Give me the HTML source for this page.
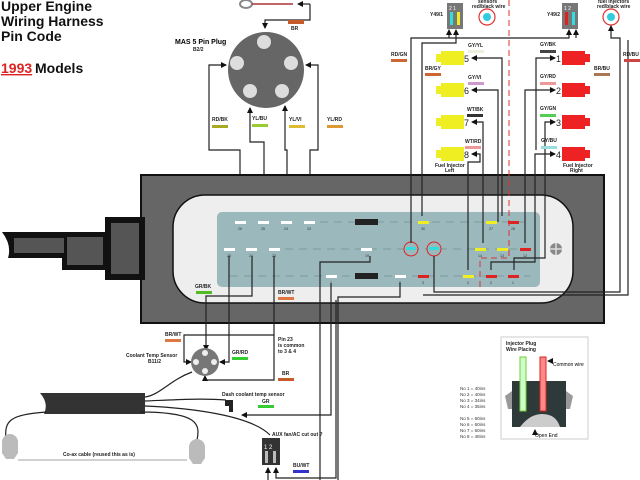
<!DOCTYPE html>
<html><head><meta charset="utf-8"><style>
html,body{margin:0;padding:0;background:#fff;}
svg{display:block;font-family:"Liberation Sans",sans-serif;}
.t{font-size:5px;font-weight:bold;fill:#222}
.w{fill:none;stroke:#222;stroke-width:1.2}
</style></head><body>
<svg width="640" height="480" viewBox="0 0 640 480" xmlns="http://www.w3.org/2000/svg">
<defs><marker id="a" markerWidth="6" markerHeight="6" refX="5" refY="3" orient="auto" markerUnits="userSpaceOnUse"><path d="M0,0L6,3L0,6z" fill="#111"/></marker></defs>
<text x="1" y="11" font-size="14" font-weight="bold" fill="#111">Upper Engine</text>
<text x="1" y="26" font-size="14" font-weight="bold" fill="#111">Wiring Harness</text>
<text x="1" y="41" font-size="14" font-weight="bold" fill="#111">Pin Code</text>
<text x="1" y="73" font-size="14" font-weight="bold" fill="#d22" text-decoration="underline">1993</text>
<text x="35" y="73" font-size="14" font-weight="bold" fill="#111">Models</text>

<!-- ring terminal -->
<ellipse cx="246" cy="4" rx="6" ry="4" fill="#fff" stroke="#888" stroke-width="2"/>
<line x1="252" y1="4" x2="293" y2="4" stroke="#a33" stroke-width="1.5"/>
<path class="w" d="M310,4 V20 H265 V28" marker-end="url(#a)"/>
<path class="w" d="M310,4 H298" marker-end="url(#a)"/>
<rect x="288" y="20" width="16" height="4" fill="#c55a2a"/><text class="t" x="291" y="30">BR</text>

<!-- MAS plug -->
<text x="175" y="44" font-size="7" font-weight="bold">MAS 5 Pin Plug</text><text class="t" x="193" y="51">B2/2</text>
<circle cx="266" cy="70" r="38" fill="#666"/>
<g fill="#ddd"><circle cx="264" cy="42" r="7"/><circle cx="291" cy="63" r="7"/><circle cx="237" cy="63" r="7"/><circle cx="250" cy="91" r="7"/><circle cx="282" cy="91" r="7"/></g>
<path class="w" d="M240,216 V150 H209 V65 H226" marker-end="url(#a)"/>
<path class="w" d="M264,216 V142 H250 V108" marker-end="url(#a)"/>
<path class="w" d="M287,216 V150 H285 V106" marker-end="url(#a)"/>
<path class="w" d="M310,216 V150 H318 V65 H306" marker-end="url(#a)"/>
<text class="t" x="212" y="121">RD/BK</text><rect x="212" y="125" width="16" height="3" fill="#aa2"/>
<text class="t" x="252" y="120">YL/BU</text><rect x="252" y="124" width="16" height="3" fill="#9c3"/>
<text class="t" x="289" y="121">YL/VI</text><rect x="289" y="125" width="16" height="3" fill="#db3"/>
<text class="t" x="327" y="121">YL/RD</text><rect x="327" y="125" width="16" height="3" fill="#d93"/>

<!-- housing -->
<rect x="141" y="175" width="463" height="148" fill="#666" stroke="#111" stroke-width="2"/>
<rect x="173" y="195" width="400" height="108" rx="32" fill="#eee" stroke="#111" stroke-width="1.5"/>
<rect x="217" y="212" width="323" height="75" rx="5" fill="#9bb9bc"/>
<circle cx="556" cy="249" r="6" fill="#888"/><path d="M550,249H562M556,243V255" stroke="#ddd" stroke-width="1.5"/>
<!-- plug cable -->
<rect x="105" y="217" width="40" height="63" fill="#111"/><rect x="111" y="223" width="28" height="51" fill="#555"/>
<rect x="62" y="232" width="45" height="38" fill="#111"/><rect x="67" y="237" width="36" height="28" fill="#555"/>
<path d="M2,232 H64 V258 H8 Q12,245 2,232z" fill="#111"/><rect x="14" y="238" width="50" height="15" fill="#555"/>
<!-- dashes -->
<g stroke="#7a9a9c" stroke-width="1" stroke-dasharray="8,6"><line x1="320" y1="222" x2="530" y2="222"/><line x1="285" y1="249" x2="530" y2="249"/><line x1="230" y1="276" x2="530" y2="276"/></g>
<rect x="355" y="219" width="23" height="6" fill="#222"/><rect x="355" y="273" width="23" height="6" fill="#222"/>
<g>
<rect x="235" y="221" width="11" height="3" fill="#fff"/><rect x="258" y="221" width="11" height="3" fill="#fff"/><rect x="281" y="221" width="11" height="3" fill="#fff"/><rect x="304" y="221" width="11" height="3" fill="#fff"/>
<rect x="418" y="221" width="11" height="3" fill="#ee2"/><rect x="486" y="221" width="11" height="3" fill="#ee2"/><rect x="508" y="221" width="11" height="3" fill="#d22"/>
<rect x="224" y="248" width="11" height="3" fill="#fff"/><rect x="246" y="248" width="11" height="3" fill="#fff"/><rect x="269" y="248" width="11" height="3" fill="#fff"/><rect x="361" y="248" width="11" height="3" fill="#fff"/>
<rect x="475" y="248" width="11" height="3" fill="#ee2"/><rect x="497" y="248" width="11" height="3" fill="#ee2"/><rect x="520" y="248" width="11" height="3" fill="#d22"/>
<rect x="326" y="275" width="11" height="3" fill="#fff"/><rect x="395" y="275" width="11" height="3" fill="#fff"/><rect x="418" y="275" width="11" height="3" fill="#d22"/>
<rect x="463" y="275" width="11" height="3" fill="#ee2"/><rect x="486" y="275" width="11" height="3" fill="#d22"/><rect x="508" y="275" width="11" height="3" fill="#d22"/>
</g>
<g font-size="3.5" fill="#333">
<text x="238" y="230">26</text><text x="261" y="230">25</text><text x="284" y="230">24</text><text x="307" y="230">33</text><text x="421" y="230">30</text><text x="489" y="230">27</text><text x="511" y="230">28</text>
<text x="227" y="257">25</text><text x="249" y="257">24</text><text x="272" y="257">23</text><text x="365" y="257">19</text><text x="478" y="257">14</text><text x="500" y="257">13</text><text x="523" y="257">12</text>
<text x="330" y="284">7</text><text x="399" y="284">8</text><text x="422" y="284">3</text><text x="467" y="284">2</text><text x="490" y="284">2</text><text x="512" y="284">1</text>
</g>
<circle cx="411" cy="249" r="7" fill="#9bb9bc" stroke="#d22"/><rect x="406" y="247" width="10" height="3" fill="#3dd"/>
<circle cx="434" cy="249" r="7" fill="#9bb9bc" stroke="#d22"/><rect x="429" y="247" width="10" height="3" fill="#3dd"/>
<text class="t" x="195" y="288">GR/BK</text><rect x="196" y="291" width="16" height="3" fill="#5b2"/>
<text class="t" x="278" y="294">BR/WT</text><rect x="278" y="297" width="16" height="3" fill="#d74"/>

<!-- red dashed -->
<path d="M509,0 V258 H480 V290" fill="none" stroke="#d33" stroke-width="1" stroke-dasharray="6,4"/>

<!-- right connectors -->
<rect x="447" y="3" width="16" height="26" fill="#777"/><rect x="450" y="12" width="3" height="13" fill="#3dd"/><rect x="457" y="12" width="3" height="13" fill="#ee2"/>
<text x="449" y="10" font-size="5" fill="#fff">2 1</text><text class="t" x="430" y="16">Y49/1</text>
<rect x="562" y="3" width="16" height="26" fill="#777"/><rect x="565" y="12" width="3" height="13" fill="#d22"/><rect x="572" y="12" width="3" height="13" fill="#3dd"/>
<text x="564" y="10" font-size="5" fill="#fff">1 2</text><text class="t" x="547" y="16">Y49/2</text>
<circle cx="487" cy="17" r="8" fill="#fff" stroke="#d33" stroke-width="1.2"/><circle cx="487" cy="17" r="4" fill="#3cd"/>
<text class="t" x="478" y="3">sensors</text><text class="t" x="472" y="8">red/black wire</text>
<circle cx="611" cy="17" r="8" fill="#fff" stroke="#d33" stroke-width="1.2"/><circle cx="611" cy="17" r="4" fill="#3cd"/>
<text class="t" x="598" y="3">fuel injectors</text><text class="t" x="597" y="8">red/black wire</text>
<path class="w" d="M411,243 V38 H569 V30" marker-end="url(#a)"/>
<path class="w" d="M422,216 V43 H456 V30" marker-end="url(#a)"/>
<path class="w" d="M449,38 V30" marker-end="url(#a)"/>
<path class="w" d="M576,38 V30" marker-end="url(#a)"/>
<path class="w" d="M434,256 V292 H620 V38 H611 V26" marker-end="url(#a)"/>
<path class="w" d="M423,295 H628 V40" />

<!-- injectors -->
<g id="yl">
<rect x="441" y="51" width="23" height="14" fill="#ee2"/><rect x="436" y="54" width="6" height="8" fill="#ee2"/>
</g>
<use href="#yl" y="32"/><use href="#yl" y="64"/><use href="#yl" y="96"/>
<g id="rd"><rect x="562" y="51" width="23" height="14" fill="#e22"/><rect x="584" y="54" width="6" height="8" fill="#e22"/></g>
<use href="#rd" y="32"/><use href="#rd" y="64"/><use href="#rd" y="96"/>
<g font-size="9" fill="#222"><text x="464" y="62">5</text><text x="464" y="94">6</text><text x="464" y="126">7</text><text x="464" y="158">8</text>
<text x="556" y="62">1</text><text x="556" y="94">2</text><text x="556" y="126">3</text><text x="556" y="158">4</text></g>
<path class="w" d="M502,216 V58 H472" marker-end="url(#a)"/>
<path class="w" d="M498,222 V90 H472" marker-end="url(#a)"/>
<path class="w" d="M483,243 V122 H472" marker-end="url(#a)"/>
<path class="w" d="M468,270 V162 H480 V154 H472" marker-end="url(#a)"/>
<path class="w" d="M536,150 V58 H555" marker-end="url(#a)"/>
<path class="w" d="M525,243 V90 H555" marker-end="url(#a)"/>
<path class="w" d="M514,270 V258 H545 V122 H555" marker-end="url(#a)"/>
<path class="w" d="M491,270 V262 H535 V154 H555" marker-end="url(#a)"/>
<text class="t" x="468" y="47">GY/YL</text><rect x="468" y="50" width="16" height="3" fill="#eed"/>
<text class="t" x="468" y="79">GY/VI</text><rect x="468" y="82" width="16" height="3" fill="#c9c"/>
<text class="t" x="467" y="111">WT/BK</text><rect x="467" y="114" width="16" height="3" fill="#333"/>
<text class="t" x="465" y="143">WT/RD</text><rect x="465" y="146" width="16" height="3" fill="#e99"/>
<text class="t" x="540" y="46">GY/BK</text><rect x="540" y="50" width="16" height="3" fill="#444"/>
<text class="t" x="540" y="78">GY/RD</text><rect x="540" y="82" width="16" height="3" fill="#e99"/>
<text class="t" x="540" y="110">GY/GN</text><rect x="540" y="114" width="16" height="3" fill="#5c5"/>
<text class="t" x="541" y="142">GY/BU</text><rect x="541" y="146" width="16" height="3" fill="#9dd"/>
<text class="t" x="435" y="167">Fuel Injector</text><text class="t" x="445" y="172">Left</text>
<text class="t" x="563" y="167">Fuel Injector</text><text class="t" x="570" y="172">Right</text>
<text class="t" x="391" y="56">RD/GN</text><rect x="391" y="59" width="16" height="3" fill="#c63"/>
<text class="t" x="425" y="70">BR/GY</text><rect x="425" y="73" width="16" height="3" fill="#c63"/>
<text class="t" x="594" y="70">BR/BU</text><rect x="594" y="73" width="16" height="3" fill="#a75"/>
<text class="t" x="623" y="56">RD/BU</text><rect x="624" y="59" width="16" height="3" fill="#c44"/>

<!-- lower wiring -->
<path class="w" d="M252,256 V296 H206 V350" marker-end="url(#a)"/>
<path class="w" d="M229,256 V362 H220" marker-end="url(#a)"/>
<path class="w" d="M274,256 V380 H205 V376" marker-end="url(#a)"/>
<path class="w" d="M274,335 H184 V362 H191" marker-end="url(#a)"/>
<path class="w" d="M331,283 V415 H242" marker-end="url(#a)"/>
<path class="w" d="M370,256 V262 H320 V480"/>
<path class="w" d="M400,283 V297 H338 V480"/>
<path class="w" d="M336,300 V478 H276 V468" marker-end="url(#a)"/>
<path class="w" d="M268,480 V468" marker-end="url(#a)"/>
<circle cx="205" cy="362" r="14" fill="#777"/>
<g fill="#eee"><circle cx="205" cy="353" r="3"/><circle cx="205" cy="371" r="3"/><circle cx="196" cy="362" r="3"/><circle cx="214" cy="362" r="3"/></g>
<text class="t" x="126" y="357">Coolant Temp Sensor</text><text class="t" x="148" y="363">B11/2</text>
<text class="t" x="165" y="336">BR/WT</text><rect x="165" y="339" width="16" height="3" fill="#d74"/>
<text class="t" x="232" y="354">GR/RD</text><rect x="232" y="357" width="16" height="3" fill="#3c3"/>
<text class="t" x="278" y="341">Pin 23</text><text class="t" x="278" y="347">is common</text><text class="t" x="278" y="353">to 3 &amp; 4</text>
<text class="t" x="282" y="375">BR</text><rect x="278" y="378" width="16" height="3" fill="#c55a2a"/>
<text class="t" x="222" y="396">Dash coolant temp sensor</text>
<text class="t" x="262" y="403">GR</text><rect x="258" y="405" width="16" height="3" fill="#3c3"/>
<path d="M225,400 h8 v12 h-4 v-6 h-4z" fill="#222"/>
<!-- bundle -->
<path d="M40,393 H145 V414 H44 Q49,403 40,393z" fill="#333"/>
<path class="w" d="M145,397 C160,395 170,380 192,372" stroke-width="1.5"/>
<path class="w" d="M145,401 C170,400 200,398 226,400" stroke-width="1.5"/>
<path class="w" d="M145,406 C190,408 250,415 270,435" stroke-width="1.5"/>
<path class="w" d="M46,412 C10,415 4,420 6,440" stroke-width="1.5"/>
<path class="w" d="M140,412 C200,412 200,425 197,440" stroke-width="1.5"/>
<path d="M2,453 V442 a8,8 0 0 1 16,0 V453 l-4,6 h-8z" fill="#bbb"/>
<path d="M189,458 V447 a8,8 0 0 1 16,0 V458 l-4,6 h-8z" fill="#bbb"/>
<line x1="18" y1="460" x2="187" y2="460" stroke="#444" stroke-width="0.5"/>
<text class="t" x="63" y="456">Co-ax cable (reused this as is)</text>
<rect x="262" y="438" width="18" height="27" fill="#333"/>
<text x="264" y="449" font-size="6" fill="#fff">1 2</text>
<rect x="265" y="451" width="3" height="12" fill="#bbb"/><rect x="273" y="451" width="3" height="12" fill="#bbb"/>
<text class="t" x="272" y="436">AUX fan/AC cut out ?</text>
<text class="t" x="293" y="467">BU/WT</text><rect x="293" y="470" width="16" height="3" fill="#33c"/>

<!-- injector plug box -->
<rect x="501" y="337" width="87" height="102" fill="#fff" stroke="#ccc"/>
<text class="t" x="506" y="345">Injector Plug</text><text class="t" x="506" y="351">Wire Placing</text>
<rect x="512" y="381" width="54" height="46" fill="#2e3a3a"/>
<path d="M520,427 Q530,414 542,414 Q556,414 560,427z" fill="#ccc"/>
<path d="M512,391 L505,396 L508,409 L512,409z M566,391 L573,396 L570,409 L566,409z" fill="#999"/>
<rect x="520" y="357" width="6" height="54" fill="#cfc" stroke="#7c3"/>
<rect x="540" y="357" width="6" height="54" fill="#f88" stroke="#d22"/>
<text font-size="5" x="553" y="366">Common wire</text><path class="w" d="M551,361 h-3" marker-end="url(#a)"/>
<text font-size="5" x="535" y="437">Open End</text><path class="w" d="M535,434 V430" marker-end="url(#a)" stroke-width="0.7"/>
<g font-size="4.5" fill="#333"><text x="460" y="390">No 1 = 40ins</text><text x="460" y="396">No 2 = 40ins</text><text x="460" y="402">No 3 = 34ins</text><text x="460" y="408">No 4 = 35ins</text>
<text x="460" y="420">No 5 = 60ins</text><text x="460" y="426">No 6 = 60ins</text><text x="460" y="432">No 7 = 60ins</text><text x="460" y="438">No 8 = 48ins</text></g>
</svg>
</body></html>
